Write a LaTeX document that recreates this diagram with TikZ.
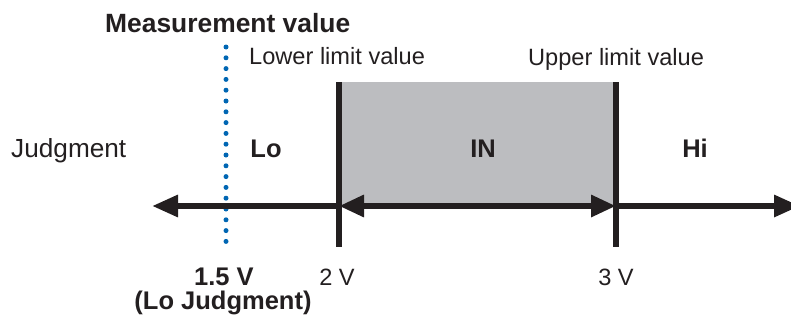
\documentclass[tikz,border=0pt]{standalone}
\usepackage{fontspec}
\setmainfont{Liberation Sans}
\usetikzlibrary{arrows.meta}
\definecolor{ink}{HTML}{231F20}
\definecolor{band}{HTML}{BCBDC0}
\definecolor{dotblue}{HTML}{0066B3}
\tikzset{
  lbl/.style={inner sep=0pt, text=ink, font=\fontsize{23.6}{26}\selectfont},
  bigl/.style={inner sep=0pt, text=ink, font=\fontsize{26.2}{28}\selectfont},
  bold/.style={inner sep=0pt, text=ink, font=\fontsize{25.5}{28}\selectfont\bfseries},
  boldbig/.style={inner sep=0pt, text=ink, font=\fontsize{26.4}{28}\selectfont\bfseries},
  axisline/.style={draw=ink, line width=6pt},
  tip/.style={-{Triangle[length=26pt,width=21pt]}},
  dtip/.style={{Triangle[length=25pt,width=21pt]}-{Triangle[length=25pt,width=21pt]}},
  dots/.style={draw=dotblue, line width=5pt, line cap=round, dash pattern=on 0pt off 10.8pt}
}
\begin{document}
\begin{tikzpicture}[x=1pt,y=-1pt]
\useasboundingbox (0,0) rectangle (791,324);
\clip (0,0) rectangle (791,324);
% coordinates
\coordinate (lt) at (339,82);
\coordinate (lb) at (339,247);
\coordinate (ut) at (616,82);
\coordinate (ub) at (616,247);
\coordinate (la) at (339,206);
\coordinate (ua) at (616,206);
\coordinate (lend) at (152,206);
\coordinate (rend) at (800,206);
\coordinate (mt) at (226,47);
\coordinate (mb) at (226,243);
% band
\fill[band] (lt) rectangle (ua);
% dotted measurement line
\draw[dots] (mt) -- (mb);
% axis
\draw[axisline, tip] (la) -- (lend);
\draw[axisline, tip] (ua) -- (rend);
\draw[axisline, dtip] (la) -- (ua);
% limit lines
\draw[axisline] (lt) -- (lb);
\draw[axisline] (ut) -- (ub);
% texts
\node[boldbig, anchor=base west] (meas) at (105,32) {Measurement value};
\node[lbl, anchor=base west] (lower) at (249,64) {Lower limit value};
\node[lbl, anchor=base west] (upper) at (528,65) {Upper limit value};
\node[bigl, anchor=base west] (judg) at (11,157) {Judgment};
\node[bold, anchor=base] (lo) at (266,157) {Lo};
\node[bold, anchor=base] (in) at (483,157) {IN};
\node[bold, anchor=base] (hi) at (695,157) {Hi};
\node[bold, anchor=base] (v15) at (224,285) {1.5 V};
\node[bold, anchor=base] (loj) at (223,309) {(Lo Judgment)};
\node[lbl, anchor=base] (v2) at (337,285) {2 V};
\node[lbl, anchor=base] (v3) at (616,285) {3 V};
\end{tikzpicture}
\end{document}
